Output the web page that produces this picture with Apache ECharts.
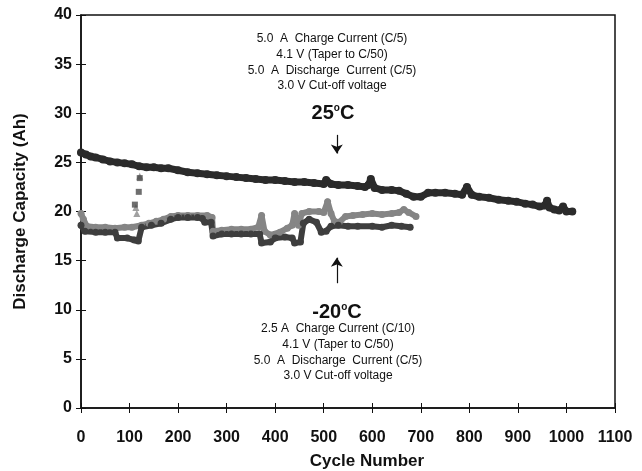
<!DOCTYPE html>
<html>
<head>
<meta charset="utf-8">
<script src="https://cdn.jsdelivr.net/npm/echarts@6/dist/echarts.min.js"></script>
<style>
  html, body { margin: 0; padding: 0; background: #fff; }
  #chart { width: 642px; height: 471px; }
</style>
</head>
<body>
<div id="chart"></div>
<script>
// 25 C cell: cycle number / discharge capacity (Ah)
const warmCycles = [0, 10, 20, 30, 45, 60, 75, 90, 105, 120, 135, 150, 165, 180, 200, 220, 240, 260, 280, 300,
  320, 340, 360, 380, 400, 420, 440, 460, 480, 500, 505, 515, 530, 550, 570, 585, 592, 597, 605, 620,
  640, 655, 670, 685, 700, 715, 730, 750, 770, 785, 795, 805, 820, 840, 860, 880, 897, 915, 930, 945,
  955, 960, 965, 975, 985, 993, 1000, 1012]
const warmValues = [26.0, 25.8, 25.6, 25.5, 25.3, 25.1, 25.0, 24.9, 24.8, 24.6, 24.5, 24.5, 24.4, 24.4, 24.2, 24.0, 23.9, 23.8, 23.7, 23.6,
  23.5, 23.4, 23.3, 23.2, 23.2, 23.1, 23.0, 23.0, 22.9, 22.8, 23.2, 22.8, 22.7, 22.7, 22.6, 22.5, 22.7, 23.3, 22.4, 22.2,
  22.2, 22.1, 21.8, 21.5, 21.5, 21.9, 21.9, 21.9, 21.8, 21.7, 22.5, 21.7, 21.5, 21.4, 21.2, 21.1, 21.0, 20.8, 20.7, 20.5,
  20.6, 21.1, 20.4, 20.2, 20.1, 20.5, 20.0, 20.0]

// -20 C cells
const coldLightCycles = [0, 5, 12, 30, 50, 70, 90, 105, 125, 140, 155, 170, 185, 200, 220, 240, 260, 270,
  272, 290, 310, 330, 350, 365, 372, 378, 390, 410, 425, 435, 440, 448, 455, 470, 490, 500, 508, 515,
  522, 532, 545, 560, 580, 600, 620, 640, 655, 665, 675, 690]
const coldLightValues = [19.8, 19.2, 18.5, 18.4, 18.4, 18.3, 18.4, 18.4, 18.6, 18.8, 19.0, 19.2, 19.5, 19.6, 19.6, 19.6, 19.6, 19.4,
  18.0, 18.1, 18.2, 18.2, 18.2, 18.4, 19.6, 18.0, 17.6, 17.9, 18.3, 18.6, 19.8, 18.6, 19.8, 20.0, 20.0, 19.9, 21.0, 19.8,
  19.0, 18.9, 19.5, 19.6, 19.7, 19.8, 19.7, 19.8, 19.9, 20.2, 19.9, 19.5]

const coldDarkCycles = [0, 8, 30, 50, 70, 75, 95, 110, 118, 125, 145, 165, 185, 200, 220, 240, 250, 255, 268,
  272, 290, 310, 330, 350, 368, 372, 390, 400, 420, 435, 440, 452, 458, 470, 485, 495, 505, 515, 530,
  550, 570, 600, 620, 640, 660, 678]
const coldDarkValues = [18.6, 18.0, 17.9, 17.9, 17.9, 17.3, 17.3, 17.1, 17.0, 18.4, 18.6, 18.8, 19.2, 19.4, 19.4, 19.4, 19.3, 18.9, 18.9,
  17.5, 17.7, 17.7, 17.7, 17.7, 17.7, 16.8, 16.9, 17.3, 17.4, 17.3, 16.8, 16.9, 18.8, 19.2, 18.9, 17.9, 18.0, 18.5, 18.6,
  18.5, 18.5, 18.5, 18.4, 18.6, 18.5, 18.4]

// isolated points around cycle 110-125
const spikeDark = [[119, 22.0], [111, 20.7], [121, 23.4]]
const spikeLight = [[121, 23.6], [115, 19.8], [113, 20.4]]

const xTicks = { min: 0, max: 1100, interval: 100 }
const yTicks = { min: 0, max: 40, interval: 5 }

const topNotes = ['5.0  A  Charge Current (C/5)', '4.1 V (Taper to C/50)', '5.0  A  Discharge  Current (C/5)', '3.0 V Cut-off voltage']
const bottomNotes = ['2.5 A  Charge Current (C/10)', '4.1 V (Taper to C/50)', '5.0  A  Discharge  Current (C/5)', '3.0 V Cut-off voltage']

const zip = (xs, ys) => xs.map((x, i) => [x, ys[i]])

const FONT = "'Liberation Sans', Arial, sans-serif"

const chart = echarts.init(document.getElementById('chart'), null, { renderer: 'canvas' })

const lineSeries = (name, data, color, width) => ({
  name: name,
  type: 'line',
  data: data,
  symbol: 'circle',
  symbolSize: width + 1,
  showSymbol: true,
  itemStyle: { color: color },
  lineStyle: { color: color, width: width, cap: 'round', join: 'round' },
  emphasis: { disabled: true },
  silent: true
})

const option = {
  animation: false,
  backgroundColor: '#fff',
  grid: {
    left: 81, right: 27, top: 15, bottom: 63, show: true, borderColor: '#111', borderWidth: 1.5,
    outerBoundsMode: 'none', containLabel: false
  },
  xAxis: [
    {
      type: 'value', min: xTicks.min, max: xTicks.max, interval: xTicks.interval,
      position: 'bottom',
      name: 'Cycle Number', nameLocation: 'middle', nameGap: 45,
      nameTextStyle: { fontFamily: FONT, fontSize: 17, fontWeight: 'bold', color: '#111', padding: [0, 0, 0, 38] },
      axisLine: { lineStyle: { color: '#111', width: 1.5 } },
      axisTick: { length: 5, lineStyle: { color: '#111', width: 1 } },
      axisLabel: { margin: 22, fontFamily: FONT, fontSize: 16, fontWeight: 'bold', color: '#111', formatter: v => String(v) },
      splitLine: { show: false }
    },
    {
      type: 'value', min: xTicks.min, max: xTicks.max, interval: xTicks.interval,
      position: 'bottom',
      axisLine: { show: false },
      axisTick: { inside: true, length: 5, lineStyle: { color: '#111', width: 1 } },
      axisLabel: { show: false },
      splitLine: { show: false }
    }
  ],
  yAxis: [
    {
      type: 'value', min: yTicks.min, max: yTicks.max, interval: yTicks.interval,
      position: 'left',
      name: 'Discharge Capacity (Ah)', nameLocation: 'middle', nameGap: 52,
      nameTextStyle: { fontFamily: FONT, fontSize: 17, fontWeight: 'bold', color: '#111' },
      axisLine: { lineStyle: { color: '#111', width: 1.5 } },
      axisTick: { length: 5, lineStyle: { color: '#111', width: 1 } },
      axisLabel: { margin: 9, fontFamily: FONT, fontSize: 16, fontWeight: 'bold', color: '#111' },
      splitLine: { show: false }
    },
    {
      type: 'value', min: yTicks.min, max: yTicks.max, interval: yTicks.interval,
      position: 'left',
      axisLine: { show: false },
      axisTick: { inside: true, length: 5, lineStyle: { color: '#111', width: 1 } },
      axisLabel: { show: false },
      splitLine: { show: false }
    }
  ],
  series: [
    lineSeries('25C', zip(warmCycles, warmValues), '#2b2b2b', 7),
    lineSeries('-20C light', zip(coldLightCycles, coldLightValues), '#858585', 6),
    lineSeries('-20C dark', zip(coldDarkCycles, coldDarkValues), '#3e3e3e', 6),
    {
      type: 'scatter', data: spikeLight, symbol: 'triangle', symbolSize: 7,
      itemStyle: { color: '#8a8a8a' }, silent: true
    },
    {
      type: 'scatter', data: spikeDark, symbol: 'rect', symbolSize: 6,
      itemStyle: { color: '#4a4a4a' }, silent: true,
      markLine: {
        silent: true,
        symbol: ['none', 'arrow'],
        symbolSize: 9,
        lineStyle: { color: '#111', width: 1.2, type: 'solid' },
        label: { show: false },
        emphasis: { disabled: true },
        data: [
          [{ coord: [527, 27.8] }, { coord: [527, 25.9] }],
          [{ coord: [527, 12.7] }, { coord: [527, 15.3] }]
        ]
      }
    }
  ],
  graphic: [
    {
      type: 'text', x: 332, y: 31, silent: true,
      style: {
        text: topNotes.join('\n'), fill: '#111', font: '12px ' + FONT,
        align: 'center', textAlign: 'center', verticalAlign: 'top', textVerticalAlign: 'top', lineHeight: 15.7
      }
    },
    {
      type: 'text', x: 333, y: 113, silent: true,
      style: {
        text: '25{sup|o}C', fill: '#111', font: 'bold 20px ' + FONT,
        align: 'center', textAlign: 'center', verticalAlign: 'middle', textVerticalAlign: 'middle',
        rich: { sup: { fontSize: 10, fontWeight: 'bold', fontFamily: FONT, fill: '#111', padding: [0, 0, 10, 0] } }
      }
    },
    {
      type: 'text', x: 337, y: 312, silent: true,
      style: {
        text: '-20{sup|o}C', fill: '#111', font: 'bold 20px ' + FONT,
        align: 'center', textAlign: 'center', verticalAlign: 'middle', textVerticalAlign: 'middle',
        rich: { sup: { fontSize: 10, fontWeight: 'bold', fontFamily: FONT, fill: '#111', padding: [0, 0, 10, 0] } }
      }
    },
    {
      type: 'text', x: 338, y: 321, silent: true,
      style: {
        text: bottomNotes.join('\n'), fill: '#111', font: '12px ' + FONT,
        align: 'center', textAlign: 'center', verticalAlign: 'top', textVerticalAlign: 'top', lineHeight: 15.7
      }
    }
  ]
}

chart.setOption(option)
</script>
</body>
</html>
